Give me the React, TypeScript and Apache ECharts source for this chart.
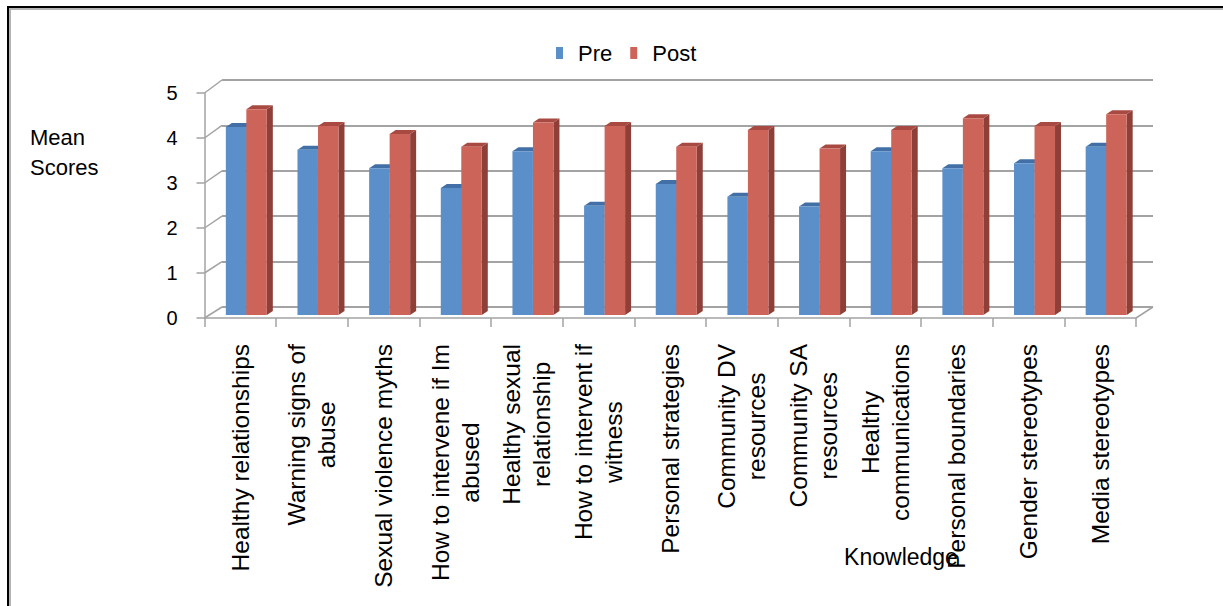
import React, { useEffect, useRef } from "react";
import * as echarts from "echarts";

const categories = [
  "Healthy relationships",
  "Warning signs of\nabuse",
  "Sexual violence myths",
  "How to intervene if Im\nabused",
  "Healthy sexual\nrelationship",
  "How to intervent if\nwitness",
  "Personal strategies",
  "Community DV\nresources",
  "Community SA\nresources",
  "Healthy\ncommunications",
  "Personal boundaries",
  "Gender stereotypes",
  "Media stereotypes",
];
const preValues = [4.18, 3.67, 3.26, 2.82, 3.64, 2.43, 2.91, 2.63, 2.41, 3.64, 3.26, 3.37, 3.74];
const postValues = [4.57, 4.2, 4.02, 3.74, 4.28, 4.2, 3.74, 4.11, 3.7, 4.11, 4.37, 4.2, 4.46];
const yTicks = [0, 1, 2, 3, 4, 5];

const W = 1223;
const H = 606;
const FRONT = { left: 204.5, right: 1136, top: 93, bottom: 318 };
const BACK = { left: 222, right: 1153, top: 80, bottom: 307 };
const FONT = "'Liberation Sans', Arial, sans-serif";
const GRID_COLOR = "#a3a3a3";

const BAR_W = 20.5;
const SHIFT_X = 6;
const SHIFT_Y = -3;
const DEPTH_X = 6;
const DEPTH_Y = 4;

const PRE = { front: "#5b8fc9", top: "#4270a6", side: "#3e6a9c" };
const POST = { front: "#cd645a", top: "#a94a42", side: "#8d3f38" };

function makeRender(side: number, c: { front: string; top: string; side: string }) {
  return (params: any, api: any) => {
    const idx = api.value(0);
    const val = api.value(1);
    const base = api.coord([idx, 0]);
    const top = api.coord([idx, val]);
    const x0 = base[0] + SHIFT_X + (side === 0 ? -BAR_W : 0);
    const yb = base[1] + SHIFT_Y;
    const yt = top[1] + SHIFT_Y;
    const x1 = x0 + BAR_W;
    return {
      type: "group",
      children: [
        {
          type: "polygon",
          shape: { points: [[x1, yt], [x1 + DEPTH_X, yt - DEPTH_Y], [x1 + DEPTH_X, yb - DEPTH_Y], [x1, yb]] },
          style: { fill: c.side },
        },
        {
          type: "polygon",
          shape: { points: [[x0, yt], [x0 + DEPTH_X, yt - DEPTH_Y], [x1 + DEPTH_X, yt - DEPTH_Y], [x1, yt]] },
          style: { fill: c.top },
        },
        {
          type: "rect",
          shape: { x: x0, y: yt, width: BAR_W, height: yb - yt },
          style: { fill: c.front },
        },
      ],
    };
  };
}

export default function App() {
  const ref = useRef<HTMLDivElement>(null);
  useEffect(() => {
    if (!ref.current) return;
    const chart = echarts.init(ref.current, undefined, { renderer: "svg" });
    const maxY = yTicks[yTicks.length - 1];

    const frameLines: any[] = [];
    yTicks.forEach((t) => {
      const fy = FRONT.bottom - ((FRONT.bottom - FRONT.top) * t) / maxY;
      const by = BACK.bottom - ((BACK.bottom - BACK.top) * t) / maxY;
      frameLines.push({
        type: "line",
        shape: { x1: FRONT.left, y1: fy, x2: BACK.left, y2: by },
        style: { stroke: GRID_COLOR, lineWidth: 1.5 },
        z: 1,
      });
    });
    frameLines.push({
      type: "line",
      shape: { x1: FRONT.right, y1: FRONT.bottom, x2: BACK.right, y2: BACK.bottom },
      style: { stroke: GRID_COLOR, lineWidth: 1.5 },
      z: 1,
    });

    chart.setOption({
      animation: false,
      backgroundColor: "#ffffff",
      textStyle: { fontFamily: FONT },
      legend: {
        left: 551,
        top: 37,
        icon: "rect",
        itemWidth: 7,
        itemHeight: 12,
        itemGap: 18,
        textStyle: { fontSize: 22, color: "#000", fontFamily: FONT, padding: [0, 0, 0, 10] },
        data: ["Pre", "Post"],
      },
      grid: [
        { left: FRONT.left, right: W - FRONT.right, top: FRONT.top, bottom: H - FRONT.bottom },
        { left: BACK.left, right: W - BACK.right, top: BACK.top, bottom: H - BACK.bottom },
      ],
      xAxis: [
        {
          type: "category",
          gridIndex: 0,
          data: categories,
          axisLine: { show: true, lineStyle: { color: GRID_COLOR, width: 1.5 } },
          axisTick: { show: true, length: 9, lineStyle: { color: GRID_COLOR, width: 1.5 } },
          axisLabel: {
            interval: 0,
            rotate: 90,
            margin: 26,
            color: "#000",
            formatter: (v: string) => v.split("\n").map((l) => `{c|${l}}`).join("\n"),
            rich: {
              c: { align: "center", fontSize: 24.5, lineHeight: 30, fontFamily: FONT, color: "#000" },
            },
          },
        },
        {
          type: "category",
          gridIndex: 1,
          data: categories,
          show: false,
        },
      ],
      yAxis: [
        {
          type: "value",
          gridIndex: 0,
          min: 0,
          max: maxY,
          interval: 1,
          axisLine: { show: true, lineStyle: { color: GRID_COLOR, width: 1.5 } },
          axisTick: { show: true, length: 8, lineStyle: { color: GRID_COLOR, width: 1.5 } },
          splitLine: { show: false },
          axisLabel: { fontSize: 20, color: "#000", margin: 27, fontFamily: FONT },
        },
        {
          type: "value",
          gridIndex: 1,
          min: 0,
          max: maxY,
          interval: 1,
          axisLine: { show: false },
          axisTick: { show: false },
          axisLabel: { show: false },
          splitLine: { show: true, lineStyle: { color: GRID_COLOR, width: 2 } },
        },
      ],
      series: [
        {
          name: "Pre",
          type: "custom",
          xAxisIndex: 0,
          yAxisIndex: 0,
          itemStyle: { color: PRE.front },
          renderItem: makeRender(0, PRE),
          encode: { x: 0, y: 1 },
          data: preValues.map((v, i) => [i, v]),
          z: 3,
        },
        {
          name: "Post",
          type: "custom",
          xAxisIndex: 0,
          yAxisIndex: 0,
          itemStyle: { color: POST.front },
          renderItem: makeRender(1, POST),
          encode: { x: 0, y: 1 },
          data: postValues.map((v, i) => [i, v]),
          z: 4,
        },
      ],
      graphic: [
        {
          type: "rect",
          shape: { x: 8, y: 7, width: W, height: H + 20 },
          style: { fill: "none", stroke: "#000", lineWidth: 2 },
          z: 10,
        },
        {
          type: "polyline",
          shape: { points: [[10, H + 10], [10, 9], [W + 10, 9]] },
          style: { fill: "none", stroke: "#b5b5b5", lineWidth: 2 },
          z: 10,
        },
        ...frameLines,
        {
          type: "text",
          left: 30,
          top: 122,
          style: { text: "Mean\nScores", lineHeight: 30, fill: "#000", font: `22px ${FONT}` },
        },
        {
          type: "text",
          x: 901,
          y: 557,
          style: {
            text: "Knowledge",
            fill: "#000",
            font: `23px ${FONT}`,
            align: "center",
            verticalAlign: "middle",
          },
          z: 10,
        },
      ],
    });
    return () => chart.dispose();
  }, []);
  return (
    <div
      ref={ref}
      style={{ position: "fixed", left: 0, top: 0, width: W, height: H, background: "#fff" }}
    />
  );
}
